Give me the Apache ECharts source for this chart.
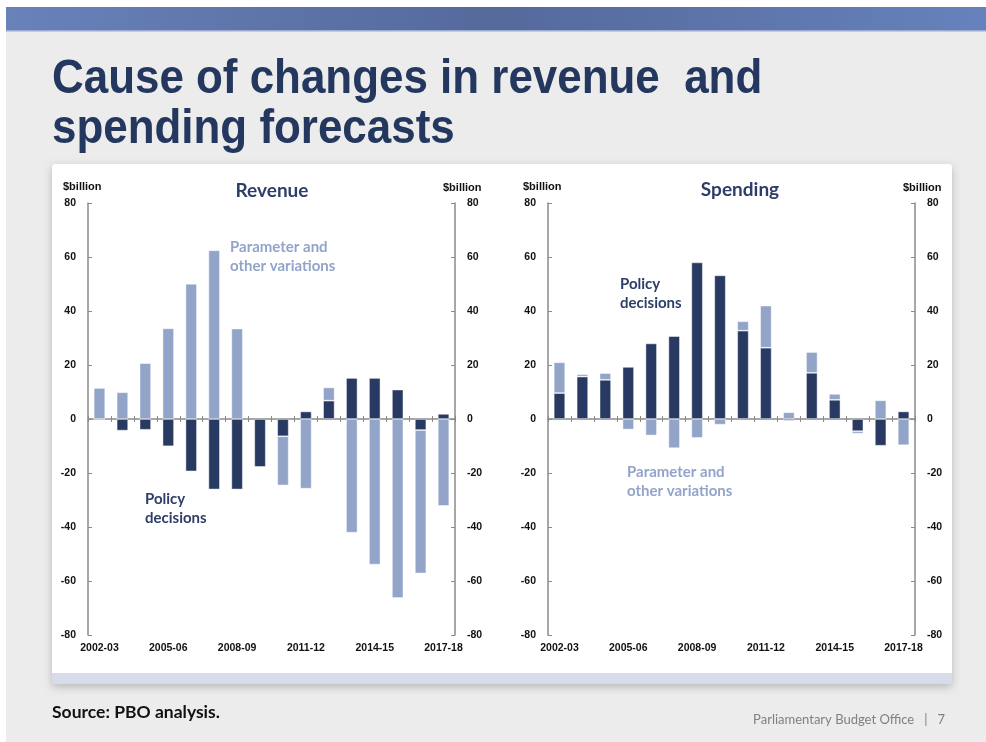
<!DOCTYPE html>
<html>
<head>
<meta charset="utf-8">
<title>Cause of changes in revenue and spending forecasts</title>
<script src="https://cdn.jsdelivr.net/npm/echarts@6/dist/echarts.min.js"></script>
<style>
    html, body { margin: 0; padding: 0; background: #ffffff; }
    #chart { width: 986px; height: 742px; }
</style>
</head>
<body>
<div id="chart"></div>
<script>
var categories = ['2002-03', '2003-04', '2004-05', '2005-06', '2006-07', '2007-08', '2008-09', '2009-10',
    '2010-11', '2011-12', '2012-13', '2013-14', '2014-15', '2015-16', '2016-17', '2017-18'];

// $billion
var revenuePolicy = [0, -4.3, -4.0, -10.1, -19.4, -26.1, -26.1, -17.8, -6.4, 2.8, 6.8, 15.2, 15.2, 10.9, -4.1, 1.9];
var revenueParam = [11.5, 9.9, 20.7, 33.6, 50.1, 62.5, 33.5, 0, -18.2, -25.8, 4.9, -42.1, -53.9, -66.3, -53.1, -32.2];
var spendingPolicy = [9.6, 15.7, 14.5, 19.3, 28.0, 30.7, 58.0, 53.2, 32.7, 26.4, -0.6, 17.1, 7.1, -4.5, -9.9, 2.8];
var spendingParam = [11.4, 0.9, 2.5, -3.9, -6.1, -10.8, -7.0, -2.1, 3.5, 15.6, 2.5, 7.7, 2.2, -0.9, 6.9, -9.7];

var yTicks = {min: -80, max: 80, interval: 20};

var DARK = '#283a61';
var LIGHT = '#93a4c9';
var AXIS_GREY = '#8a8a8a';
var LABEL_FONT = '"Liberation Sans", Arial, sans-serif';
var BODY_FONT = 'Lato, "Open Sans", sans-serif';

var CHART = {
    el: null,
    grids: [{left: 88, top: 203, width: 367, height: 432}, {left: 548, top: 203, width: 367, height: 432}],
    ini: function () {
        this.el = echarts.init(document.getElementById('chart'), null, {renderer: 'canvas'});
        this.el.setOption(this.option());
    },
    yAxis: function (grid, pos) {
        return {
            type: 'value',
            gridIndex: grid,
            position: pos,
            min: yTicks.min,
            max: yTicks.max,
            interval: yTicks.interval,
            splitLine: {show: false},
            axisLine: {show: true, onZero: false, lineStyle: {color: AXIS_GREY, width: 1.5}},
            axisTick: {show: true, inside: true, length: 4, lineStyle: {color: AXIS_GREY}},
            axisLabel: {
                color: '#111', fontFamily: LABEL_FONT, fontWeight: 'bold', fontSize: 10.5, margin: 12,
                align: pos == 'left' ? 'right' : 'left'
            }
        };
    },
    xAxes: function (grid) {
        var base = {type: 'category', gridIndex: grid, data: categories, position: 'bottom'};
        // zero line with ticks crossing it, plus a bottom axis carrying only the labels
        return [
            Object.assign({}, base, {
                axisLine: {show: true, onZero: true, lineStyle: {color: AXIS_GREY, width: 1.5}},
                axisTick: {show: true, interval: 0, length: 3, lineStyle: {color: AXIS_GREY}},
                axisLabel: {show: false}
            }),
            Object.assign({}, base, {
                axisLine: {show: false, onZero: true},
                axisTick: {show: true, inside: true, interval: 0, length: 3, lineStyle: {color: AXIS_GREY}},
                axisLabel: {show: false}
            }),
            Object.assign({}, base, {
                axisLine: {show: false, onZero: false},
                axisTick: {show: false},
                axisLabel: {
                    interval: 2, color: '#111', fontFamily: LABEL_FONT, fontWeight: 'bold',
                    fontSize: 10.5, margin: 8
                }
            })
        ];
    },
    bars: function (name, data, color, xi, yi, stack) {
        return {
            name: name, type: 'bar', data: data, stack: stack,
            xAxisIndex: xi, yAxisIndex: yi, barWidth: '50%',
            itemStyle: {color: color, borderColor: 'rgba(255,255,255,0.55)', borderWidth: 0.8},
            silent: true, animation: false
        };
    },
    text: function (x, y, str, style) {
        return {
            type: 'text', x: x, y: y, silent: true,
            style: Object.assign({text: str, fill: '#111', verticalAlign: 'middle'}, style)
        };
    },
    option: function () {
        var me = this;
        var units = {font: 'bold 11px ' + LABEL_FONT, fill: '#111', align: 'left'};
        var noteDark = {font: 'bold 15px ' + BODY_FONT, fill: '#2d3e68', lineHeight: 19};
        var noteLight = {font: 'bold 15px ' + BODY_FONT, fill: '#92a4ca', lineHeight: 19};
        var panelTitle = {font: 'bold 19px ' + BODY_FONT, fill: '#2d3e68', align: 'center'};
        var titleStyle = {font: 'bold 48px ' + LABEL_FONT, fill: '#24375e'};

        var title1 = me.text(52, 80, 'Cause of changes in revenue  and', titleStyle);
        var title2 = me.text(52, 130, 'spending forecasts', titleStyle);
        // slide title is set narrower than regular bold sans
        title1.scaleX = title2.scaleX = 0.915;

        var graphic = [
            {type: 'rect', shape: {x: 0, y: 0, width: 986, height: 742}, style: {fill: '#ffffff'}, z: -10},
            {type: 'rect', shape: {x: 6, y: 7, width: 980, height: 735}, style: {fill: '#ececec'}, z: -9},
            {
                type: 'rect', shape: {x: 6, y: 7, width: 980, height: 23}, z: -8,
                style: {
                    fill: new echarts.graphic.LinearGradient(0, 0, 1, 0, [
                        {offset: 0, color: '#6882ba'},
                        {offset: 0.5, color: '#55699b'},
                        {offset: 1, color: '#6682bc'}
                    ])
                }
            },
            {type: 'rect', shape: {x: 6, y: 30, width: 980, height: 1.5}, style: {fill: '#9aaad0'}, z: -8},
            {
                type: 'rect', shape: {x: 52, y: 164, width: 900, height: 520, r: 3}, z: -7,
                style: {fill: '#d6dce9', shadowBlur: 8, shadowOffsetY: 3, shadowColor: 'rgba(0,0,0,0.22)'}
            },
            {type: 'rect', shape: {x: 52, y: 164, width: 900, height: 509, r: [3, 3, 0, 0]}, style: {fill: '#ffffff'}, z: -6},
            title1,
            title2,
            me.text(52, 712, 'Source: PBO analysis.', {font: 'bold 17.5px ' + BODY_FONT, fill: '#111'}),
            me.text(945, 720, 'Parliamentary Budget Office   |   7', {font: '13px ' + BODY_FONT, fill: '#808080', align: 'right'}),
            me.text(63, 187, '$billion', units),
            me.text(443, 188, '$billion', units),
            me.text(523, 187, '$billion', units),
            me.text(903, 188, '$billion', units),
            me.text(272, 191, 'Revenue', panelTitle),
            me.text(740, 190, 'Spending', panelTitle),
            me.text(230, 257, 'Parameter and\nother variations', noteLight),
            me.text(145, 509, 'Policy\ndecisions', noteDark),
            me.text(620, 294, 'Policy\ndecisions', noteDark),
            me.text(627, 482, 'Parameter and\nother variations', noteLight)
        ];

        return {
            backgroundColor: '#ffffff',
            animation: false,
            graphic: graphic,
            grid: me.grids,
            xAxis: me.xAxes(0).concat(me.xAxes(1)),
            yAxis: [me.yAxis(0, 'left'), me.yAxis(0, 'right'), me.yAxis(1, 'left'), me.yAxis(1, 'right')],
            series: [
                me.bars('Policy decisions', revenuePolicy, DARK, 0, 0, 'rev'),
                me.bars('Parameter and other variations', revenueParam, LIGHT, 0, 0, 'rev'),
                me.bars('Policy decisions', spendingPolicy, DARK, 3, 2, 'spend'),
                me.bars('Parameter and other variations', spendingParam, LIGHT, 3, 2, 'spend')
            ]
        };
    }
};

CHART.ini();
</script>
</body>
</html>
